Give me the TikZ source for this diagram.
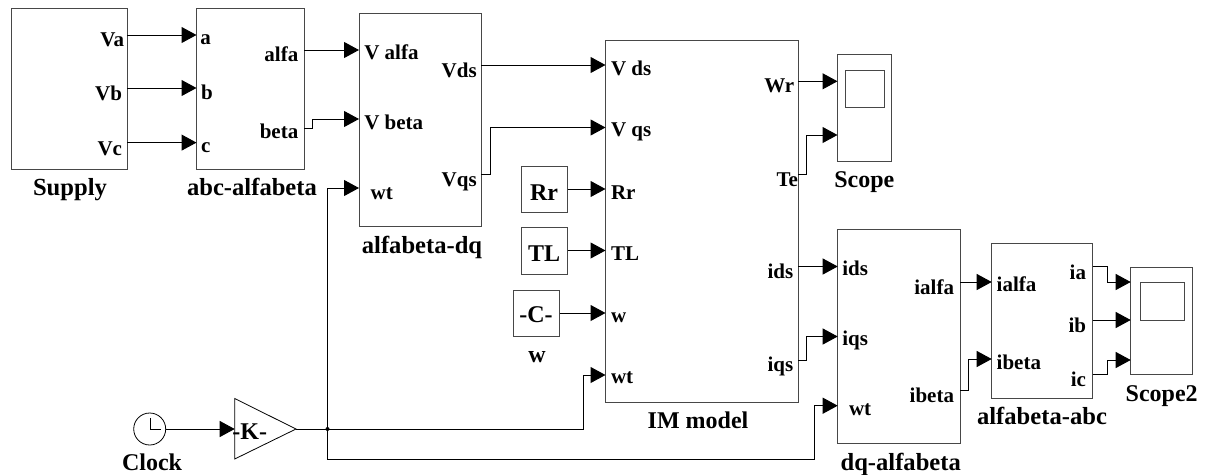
\documentclass[tikz,border=0pt]{standalone}
\usepackage{fontspec}
\setmainfont{Liberation Serif}
\usetikzlibrary{arrows.meta}
\tikzset{
  block/.style={draw=black!72,line width=1pt,rectangle,inner sep=0pt,outer sep=0pt},
  wire/.style={draw=black,line width=1pt,-{Triangle[length=15pt,width=16pt]}},
  plainwire/.style={draw=black,line width=1pt},
  portw/.style={inner sep=0pt,outer sep=0pt,anchor=base west,font=\fontsize{21}{21}\bfseries\selectfont},
  porte/.style={inner sep=0pt,outer sep=0pt,anchor=base east,font=\fontsize{21}{21}\bfseries\selectfont},
  captext/.style={inner sep=0pt,outer sep=0pt,anchor=base,font=\fontsize{24}{24}\bfseries\selectfont},
  captextwide/.style={inner sep=0pt,outer sep=0pt,anchor=base,font=\fontsize{24.6}{24.6}\bfseries\selectfont},
}
\begin{document}
\begin{tikzpicture}[x=1pt,y=-1pt]
\useasboundingbox[fill=white] (0,0) rectangle (1206,474);
% blocks
\node[block,minimum width=116,minimum height=161] (supply) at (69,88.5) {};
\node[block,minimum width=107.5,minimum height=161] (abc) at (250.25,88.5) {};
\node[block,minimum width=122,minimum height=213] (abdq) at (420,119.5) {};
\node[block,minimum width=192.5,minimum height=362] (im) at (701.75,221) {};
\node[block,minimum width=53.5,minimum height=107] (scope) at (864.25,107.5) {};
\node[block,minimum width=39,minimum height=37] (scopescreen) at (864.5,88.5) {};
\node[block,minimum width=46.5,minimum height=46] (rr) at (544.25,189) {};
\node[block,minimum width=46.5,minimum height=46.5] (tl) at (544.25,250.75) {};
\node[block,minimum width=46.5,minimum height=46] (cst) at (536.25,313) {};
\node[block,minimum width=122.3,minimum height=213.3] (dq) at (898.85,336.35) {};
\node[block,minimum width=101,minimum height=154.3] (ababc) at (1042.2,320.85) {};
\node[block,minimum width=61.6,minimum height=107.7] (scopetwo) at (1161.5,320.85) {};
\node[block,minimum width=44.5,minimum height=38] (scopetwoscreen) at (1162.25,301) {};
\node[draw=black,line width=0.8pt,circle,inner sep=0pt,outer sep=0pt,minimum size=32] (clock) at (149.7,429) {};
\draw[line width=0.7pt] (150,418) -- (150,429.6) -- (160.7,429.6);
\coordinate (gainin) at (234.7,429);
\coordinate (gainout) at (296,429);
\draw[draw=black,line width=0.8pt] (234.7,398.5) -- (234.7,459) -- (gainout) -- cycle;
\node[circle,fill=black,inner sep=0pt,outer sep=0pt,minimum size=4] (jct) at (327.5,429) {};
% connectors
\draw[wire] (supply.east |- 0,35) -- (abc.west |- 0,35);
\draw[wire] (supply.east |- 0,88) -- (abc.west |- 0,88);
\draw[wire] (supply.east |- 0,142.6) -- (abc.west |- 0,142.6);
\draw[wire] (abc.east |- 0,50) -- (abdq.west |- 0,50);
\draw[wire] (abc.east |- 0,128) -- (312.5,128) -- (312.5,119) -- (abdq.west |- 0,119);
\draw[wire] (abdq.east |- 0,65) -- (im.west |- 0,65);
\draw[wire] (abdq.east |- 0,174) -- (490,174) -- (490,127.5) -- (im.west |- 0,127.5);
\draw[wire] (rr.east |- 0,189) -- (im.west |- 0,189);
\draw[wire] (tl.east |- 0,250.5) -- (im.west |- 0,250.5);
\draw[wire] (cst.east |- 0,313) -- (im.west |- 0,313);
\draw[wire] (im.east |- 0,81.3) -- (scope.west |- 0,81.3);
\draw[wire] (im.east |- 0,174) -- (806,174) -- (806,135) -- (scope.west |- 0,135);
\draw[wire] (im.east |- 0,266.5) -- (dq.west |- 0,266.5);
\draw[wire] (im.east |- 0,360) -- (806,360) -- (806,336.5) -- (dq.west |- 0,336.5);
\draw[wire] (dq.east |- 0,282) -- (ababc.west |- 0,282);
\draw[wire] (dq.east |- 0,390) -- (968,390) -- (968,359) -- (ababc.west |- 0,359);
\draw[wire] (ababc.east |- 0,266.7) -- (1107.7,266.7) -- (1107.7,282) -- (scopetwo.west |- 0,282);
\draw[wire] (ababc.east |- 0,320) -- (scopetwo.west |- 0,320);
\draw[wire] (ababc.east |- 0,374.7) -- (1107.7,374.7) -- (1107.7,360) -- (scopetwo.west |- 0,360);
\draw[wire] (clock.east) -- (gainin);
\draw[plainwire] (gainout) -- (jct);
\draw[wire] (jct.center) -- (jct.center |- 0,188) -- (abdq.west |- 0,188);
\draw[wire] (jct.center) -- (583,429) -- (583,375) -- (im.west |- 0,375);
\draw[wire] (jct.center) -- (jct.center |- 0,459) -- (814.7,459) -- (814.7,405.7) -- (dq.west |- 0,405.7);
% port labels
\node[porte] (tva) at (124,46.7) {Va};
\node[porte] (tvb) at (122,100.7) {Vb};
\node[porte] (tvc) at (122,155) {Vc};
\node[portw] (ta) at (200.3,44) {a};
\node[portw] (tb) at (201,99) {b};
\node[portw] (tc) at (201,152) {c};
\node[porte] (talfa) at (298.3,61.7) {alfa};
\node[porte] (tbeta) at (298.3,138.7) {beta};
\node[portw] (tvalfa) at (364.3,59) {V alfa};
\node[portw] (tvbeta) at (364.3,129) {V beta};
\node[portw] (twta) at (370.7,199) {wt};
\node[porte] (tvds) at (476.7,77.3) {Vds};
\node[porte] (tvqs) at (476.7,186) {Vqs};
\node[portw] (tvdsi) at (611,75.7) {V ds};
\node[portw] (tvqsi) at (611,136.7) {V qs};
\node[portw] (trri) at (611,199) {Rr};
\node[portw] (ttli) at (611,260.7) {TL};
\node[portw] (twi) at (611,322) {w};
\node[portw] (twti) at (611,383) {wt};
\node[porte] (twr) at (794.3,92.7) {Wr};
\node[porte] (tte) at (798,186) {Te};
\node[porte] (tidso) at (793.3,278.7) {ids};
\node[porte] (tiqso) at (793.3,371.7) {iqs};
\node[portw] (tidsi) at (842.3,275.7) {ids};
\node[portw] (tiqsi) at (842.3,345) {iqs};
\node[portw] (twtd) at (849,415.7) {wt};
\node[porte] (tialfao) at (954,294) {ialfa};
\node[porte] (tibetao) at (954,402.7) {ibeta};
\node[portw] (tialfai) at (996.7,291) {ialfa};
\node[portw] (tibetai) at (996.7,369) {ibeta};
\node[porte] (tia) at (1086,279) {ia};
\node[porte] (tib) at (1086,332.7) {ib};
\node[porte] (tic) at (1086,386) {ic};
% captions and block texts
\node[captextwide] (lsupply) at (70,195) {Supply};
\node[captextwide] (labc) at (252,195.7) {abc-alfabeta};
\node[captextwide] (labdq) at (422,253) {alfabeta-dq};
\node[captext] (lim) at (698,428) {IM model};
\node[captext] (lscope) at (864.3,187.7) {Scope};
\node[captext] (lscopetwo) at (1161.7,401.7) {Scope2};
\node[captextwide] (lababc) at (1042,424) {alfabeta-abc};
\node[captextwide] (ldq) at (900.7,470) {dq-alfabeta};
\node[captext] (lw) at (537,362) {w};
\node[captext] (lclock) at (152,470) {Clock};
\node[captext] (lrr) at (544,200) {Rr};
\node[captext] (ltl) at (544,261.7) {TL};
\node[captext] (lc) at (536,322) {-C-};
\node[captext] (lk) at (249.7,439) {-K-};
\end{tikzpicture}
\end{document}
